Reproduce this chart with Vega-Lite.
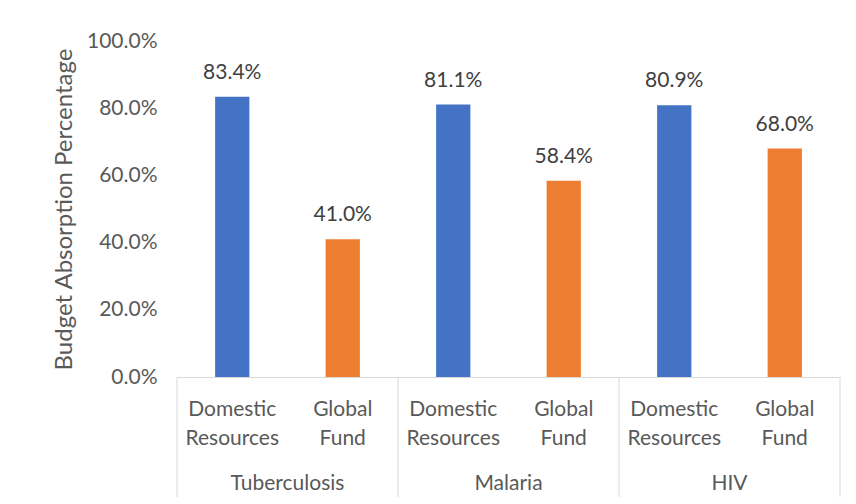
{
  "$schema": "https://vega.github.io/schema/vega-lite/v6.json",
  "width": 663,
  "height": 336,
  "autosize": {"type": "none"},
  "padding": {"left": 177, "top": 41, "right": 16, "bottom": 127},
  "background": "white",
  "config": {
    "view": {"stroke": null},
    "font": "Lato",
    "text": {"font": "Lato"}
  },
  "data": {
    "values": [
      {"disease": "Tuberculosis", "source": "Domestic Resources", "key": "Tuberculosis|Domestic Resources", "value": 0.834},
      {"disease": "Tuberculosis", "source": "Global Fund", "key": "Tuberculosis|Global Fund", "value": 0.41},
      {"disease": "Malaria", "source": "Domestic Resources", "key": "Malaria|Domestic Resources", "value": 0.811},
      {"disease": "Malaria", "source": "Global Fund", "key": "Malaria|Global Fund", "value": 0.584},
      {"disease": "HIV", "source": "Domestic Resources", "key": "HIV|Domestic Resources", "value": 0.809},
      {"disease": "HIV", "source": "Global Fund", "key": "HIV|Global Fund", "value": 0.68}
    ]
  },
  "encoding": {
    "x": {
      "field": "key",
      "type": "nominal",
      "sort": null,
      "scale": {
        "domain": ["Tuberculosis|Domestic Resources", "Tuberculosis|Global Fund", "Malaria|Domestic Resources", "Malaria|Global Fund", "HIV|Domestic Resources", "HIV|Global Fund"],
        "paddingInner": 0,
        "paddingOuter": 0
      },
      "axis": {
        "title": null,
        "labelAngle": 0,
        "labelExpr": "split(split(datum.label, '|')[1], ' ')",
        "labelFontSize": 21,
        "labelColor": "#595959",
        "labelLineHeight": 29,
        "labelPadding": 21,
        "labelOverlap": false,
        "ticks": false,
        "tickSize": 0,
        "domainColor": "#d9d9d9",
        "domainWidth": 1,
        "grid": false
      }
    }
  },
  "layer": [
    {
      "mark": {"type": "bar", "width": {"band": 0.31}},
      "encoding": {
        "y": {
          "field": "value",
          "type": "quantitative",
          "scale": {"domain": [0, 1], "nice": false, "zero": false},
          "axis": {
            "title": "Budget Absorption Percentage",
            "titleFontSize": 24,
            "titleFont": "Lato",
            "titleFontWeight": "normal",
            "titleColor": "#595959",
            "titlePadding": 10,
            "format": ".1%",
            "values": [0, 0.2, 0.4, 0.6, 0.8, 1],
            "labelFontSize": 21,
            "labelColor": "#595959",
            "labelPadding": 20,
            "ticks": false,
            "tickSize": 0,
            "domain": false,
            "grid": false
          }
        },
        "color": {
          "field": "source",
          "type": "nominal",
          "scale": {"domain": ["Domestic Resources", "Global Fund"], "range": ["#4472C4", "#ED7D31"]},
          "legend": null
        }
      }
    },
    {
      "mark": {"type": "text", "dy": -18, "baseline": "alphabetic", "fontSize": 21, "color": "#404040"},
      "encoding": {
        "y": {"field": "value", "type": "quantitative"},
        "text": {"field": "value", "type": "quantitative", "format": ".1%"}
      }
    },
    {
      "transform": [{"filter": "datum.source === 'Domestic Resources'"}],
      "mark": {"type": "rule", "color": "#d9d9d9", "strokeWidth": 1},
      "encoding": {
        "x": {"field": "key", "type": "nominal", "sort": null, "bandPosition": 0},
        "y": {"datum": 0, "type": "quantitative"},
        "y2": {"datum": -0.357}
      }
    },
    {
      "transform": [{"filter": "datum.key === 'HIV|Global Fund'"}],
      "mark": {"type": "rule", "color": "#d9d9d9", "strokeWidth": 1},
      "encoding": {
        "x": {"field": "key", "type": "nominal", "sort": null, "bandPosition": 1},
        "y": {"datum": 0, "type": "quantitative"},
        "y2": {"datum": -0.357}
      }
    },
    {
      "transform": [{"filter": "datum.source === 'Domestic Resources'"}],
      "mark": {"type": "text", "baseline": "alphabetic", "fontSize": 21, "color": "#595959"},
      "encoding": {
        "x": {"field": "key", "type": "nominal", "sort": null, "bandPosition": 1},
        "y": {"datum": -0.336, "type": "quantitative"},
        "text": {"field": "disease", "type": "nominal"}
      }
    }
  ]
}
